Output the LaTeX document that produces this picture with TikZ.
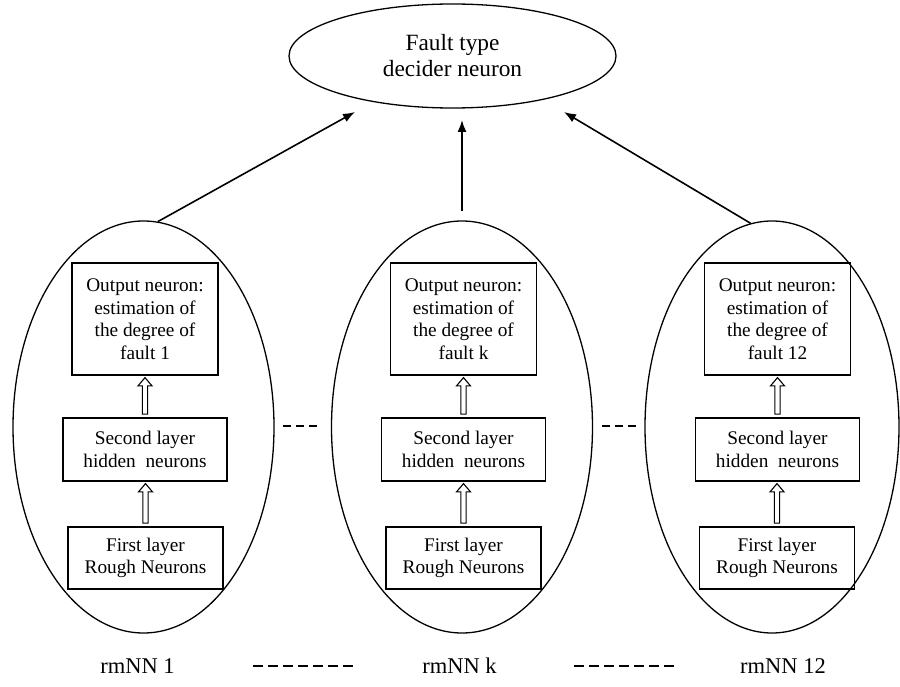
\documentclass[tikz,border=0pt]{standalone}
\usepackage{fontspec}
\setmainfont{Liberation Serif}
\usetikzlibrary{shapes.geometric,arrows.meta,calc}

% outlined block arrow pointing up, from the top of #1 to the bottom of #2
\newcommand\hollowarrow[2]{%
  \draw[line width=1.1pt,line join=miter]
    let \p1=(#1.north), \p2=(#2.south) in
    (\x1-2.6pt,\y1+3pt) -- (\x1-2.6pt,\y2-10pt) -- (\x1-7pt,\y2-10pt) --
    (\x1,\y2-1.7pt) -- (\x1+7pt,\y2-10pt) -- (\x1+2.6pt,\y2-10pt) --
    (\x1+2.6pt,\y1+3pt) -- cycle;}

\begin{document}
\begin{tikzpicture}[x=1pt,y=-1pt,
  netell/.style={draw,ellipse,line width=1.3pt,minimum width=261pt,
    minimum height=412pt,inner sep=0pt},
  box/.style={draw,line width=1.8pt,align=center,inner sep=0pt,
    font=\fontsize{19.3}{22.5}\selectfont},
  outbox/.style={box,minimum width=146pt,minimum height=112pt},
  secbox/.style={box,minimum width=164pt,minimum height=63pt},
  firbox/.style={box,minimum width=155pt,minimum height=62pt},
  arr/.style={line width=1.6pt,-{Latex[length=12pt,width=9pt]}},
  dots/.style={line width=2.2pt,dash pattern=on 10pt off 5pt},
  gapdots/.style={line width=2pt,dash pattern=on 8pt off 5pt},
  netlabel/.style={font=\fontsize{22.5}{26}\selectfont,inner sep=0pt}
]
\useasboundingbox (0,0) rectangle (900,687);

% decider neuron
\node[draw,ellipse,line width=1.3pt,minimum width=327pt,minimum height=104pt,
  inner sep=0pt,align=center,font=\fontsize{23.3}{26}\selectfont]
  (top) at (452.5,56) {Fault type\\decider neuron};

% the three rough-neuron networks
\node[netell] (e1) at (143.5,427) {};
\node[netell] (e2) at (462,427) {};
\node[netell,minimum width=254pt] (e3) at (772,427) {};

\node[outbox] (o1) at (145,319) {Output neuron:\\estimation of\\the degree of\\fault 1};
\node[secbox] (s1) at (145,449.5) {Second layer\\hidden\ \ neurons};
\node[firbox] (f1) at (145.5,558) {First layer\\Rough Neurons};

\node[outbox] (o2) at (463.5,319) {Output neuron:\\estimation of\\the degree of\\fault k};
\node[secbox] (s2) at (463.5,449.5) {Second layer\\hidden\ \ neurons};
\node[firbox] (f2) at (463.5,558) {First layer\\Rough Neurons};

\node[outbox] (o3) at (777.5,319) {Output neuron:\\estimation of\\the degree of\\fault 12};
\node[secbox] (s3) at (777.5,449.5) {Second layer\\hidden\ \ neurons};
\node[firbox] (f3) at (777,558) {First layer\\Rough Neurons};

\hollowarrow{s1}{o1}
\hollowarrow{f1}{s1}
\hollowarrow{s2}{o2}
\hollowarrow{f2}{s2}
\hollowarrow{s3}{o3}
\hollowarrow{f3}{s3}

% outputs to the decider neuron
\coordinate (t1) at (355,112);
\coordinate (t2) at (462,120);
\coordinate (t3) at (564,112);
\draw[arr] (e1.86.8) -- (t1);
\draw[arr,shorten <=9pt] (e2.north) -- (t2);
\draw[arr] (e3.96.2) -- (t3);

% continuation marks between the networks
\coordinate (ga) at (283,426);
\coordinate (gb) at (319,426);
\coordinate (gc) at (602,426);
\coordinate (gd) at (638,426);
\draw[gapdots] (ga) -- (gb);
\draw[gapdots] (gc) -- (gd);

% network labels
\node[netlabel] (l1) at (137.5,666) {rmNN 1};
\node[netlabel] (l2) at (459.5,666) {rmNN k};
\node[netlabel] (l3) at (783,666) {rmNN 12};
\coordinate (da) at (253,666);
\coordinate (db) at (353,666);
\coordinate (dc) at (574,666);
\coordinate (dd) at (674,666);
\draw[dots] (da) -- (db);
\draw[dots] (dc) -- (dd);
\end{tikzpicture}
\end{document}
